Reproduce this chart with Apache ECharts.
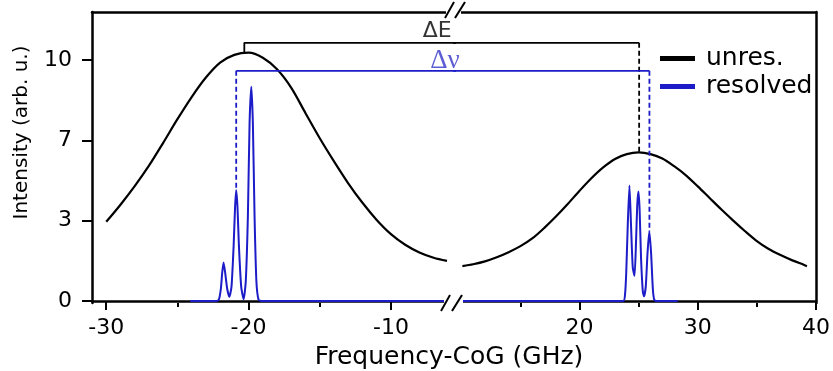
<!DOCTYPE html>
<html>
<head>
<meta charset="utf-8">
<script src="https://cdn.jsdelivr.net/npm/echarts@6/dist/echarts.min.js"></script>
<style>
  html, body { margin: 0; padding: 0; background: #fff; }
  #chart { width: 833px; height: 371px; }
</style>
</head>
<body>
<div id="chart"></div>
<script>
// unresolved (broad) line shape, left and right of the axis break
const unresLeft = [
  [-30, 3.29], [-29, 4.0], [-28, 4.77], [-27, 5.62], [-26, 6.57], [-25, 7.55],
  [-24, 8.47], [-23, 9.28], [-22, 9.9], [-21, 10.22], [-20, 10.31], [-19, 10.1],
  [-18, 9.62], [-17, 8.85], [-16, 7.8], [-15, 6.76], [-14, 5.8], [-13, 4.89],
  [-12, 4.08], [-11, 3.37], [-10, 2.78], [-9, 2.34], [-8, 2.02], [-7, 1.8], [-6.06, 1.67]
]
const unresRight = [
  [10.09, 1.45], [11, 1.53], [12, 1.65], [13, 1.82], [14, 2.03], [15, 2.28], [16, 2.6],
  [17, 3.03], [18, 3.51], [19, 4.03], [20, 4.58], [21, 5.1], [22, 5.55], [23, 5.9],
  [24, 6.1], [25, 6.17], [26, 6.1], [27, 5.92], [28, 5.6], [29, 5.22], [30, 4.76],
  [31, 4.28], [32, 3.8], [33, 3.34], [34, 2.9], [35, 2.49], [36, 2.16], [37, 1.91],
  [38, 1.69], [39, 1.5], [39.23, 1.45]
]
// resolved hyperfine components
const resolvedLeft = [
  [-24.1, 0], [-22.4, 0], [-22.1, 0.05], [-21.95, 0.5], [-21.85, 1.2], [-21.76, 1.6],
  [-21.65, 1.2], [-21.5, 0.5], [-21.35, 0.18], [-21.2, 0.6], [-21.05, 2.3], [-20.95, 3.9],
  [-20.87, 4.6], [-20.78, 3.9], [-20.68, 2.3], [-20.52, 0.6], [-20.35, 0.08], [-20.2, 0.8],
  [-20.05, 3.5], [-19.93, 7.4], [-19.81, 8.9], [-19.7, 7.4], [-19.58, 3.5], [-19.45, 0.8],
  [-19.3, 0.05], [-19.1, 0], [-5.0, 0]
]
const resolvedRight = [
  [9.0, 0], [23.7, 0], [23.85, 0.3], [23.95, 1.2], [24.08, 3.2], [24.22, 4.8],
  [24.35, 3.2], [24.5, 1.4], [24.65, 1.05], [24.78, 2.5], [24.88, 4.0], [24.98, 4.55],
  [25.08, 3.8], [25.2, 1.8], [25.35, 0.4], [25.45, 0.2], [25.6, 0.6], [25.75, 2.0],
  [25.9, 2.9], [26.05, 2.0], [26.2, 0.5], [26.32, 0.05], [26.5, 0], [28.3, 0]
]
// splitting markers: ΔE between unresolved maxima, Δν between resolved centroids
const dE = { from: -20.3, to: 25.04, level: 10.72, peakL: 10.31, peakR: 6.17 }
const dNu = { from: -20.87, to: 25.91, level: 9.56, peakL: 4.6, peakR: 2.9 }

const xTicksLeft = [-30, -20, -10]
const xMinorLeft = [-25, -15]
const xTicksRight = [20, 30, 40]
const xMinorRight = [15, 25, 35]
const yTicks = [0, 10 / 3, 20 / 3, 10]

const FONT = "DejaVu Sans"
const BLACK = "#000"
const BLUE = "#1c1cc8"
const xL = [-31, -5.57]
const xR = [9.38, 40]
const yR = [-0.08, 12]

const gridL = { left: 92, top: 12, width: 362, height: 291 }
const gridR = { left: 454, top: 12, width: 362.5, height: 291 }
const breakX = gridL.left + gridL.width

const lineAxis = { lineStyle: { color: BLACK, width: 2.5 } }

function bottomAxis(grid, range, ticks) {
  return {
    type: "value", gridIndex: grid, position: "bottom", min: range[0], max: range[1],
    axisLine: lineAxis,
    axisTick: { show: true, inside: false, length: 9, customValues: ticks, lineStyle: { color: BLACK, width: 2 } },
    axisLabel: { customValues: ticks, margin: 14, fontSize: 22, fontFamily: FONT, color: BLACK },
    splitLine: { show: false },
  }
}
function minorAxis(grid, range, ticks) {
  return {
    type: "value", gridIndex: grid, position: "bottom", min: range[0], max: range[1],
    axisLine: { show: false },
    axisTick: { show: true, length: 4, customValues: ticks, lineStyle: { color: BLACK, width: 2 } },
    axisLabel: { show: false },
    splitLine: { show: false },
  }
}
function topAxis(grid, range) {
  return {
    type: "value", gridIndex: grid, position: "top", min: range[0], max: range[1],
    axisLine: lineAxis, axisTick: { show: false }, axisLabel: { show: false }, splitLine: { show: false },
  }
}

function seg(name, xi, yi, data, color, dashed) {
  return {
    name, type: "line", xAxisIndex: xi, yAxisIndex: yi, data,
    showSymbol: false, silent: true,
    lineStyle: { color, width: 1.8, type: dashed ? [5, 3] : "solid" },
  }
}

const option = {
  animation: false,
  backgroundColor: "#fff",
  grid: [gridL, gridR],
  legend: {
    orient: "vertical", left: 655, top: 41,
    itemWidth: 35, itemHeight: 5, itemGap: 3, icon: "rect",
    data: ["unres.", "resolved"],
    textStyle: { fontSize: 25, fontFamily: FONT, color: BLACK, lineHeight: 25, padding: [0, 0, 0, 6] },
  },
  xAxis: [
    Object.assign(bottomAxis(0, xL, xTicksLeft), {
      name: "Frequency-CoG (GHz)", nameLocation: "end", nameGap: -5,
      nameTextStyle: { fontSize: 25, fontFamily: FONT, color: BLACK, align: "center", verticalAlign: "top", padding: [44, 0, 0, 0] },
    }),
    minorAxis(0, xL, xMinorLeft),
    topAxis(0, xL),
    bottomAxis(1, xR, xTicksRight),
    minorAxis(1, xR, xMinorRight),
    topAxis(1, xR),
  ],
  yAxis: [
    {
      type: "value", gridIndex: 0, position: "left", min: yR[0], max: yR[1],
      axisLine: lineAxis,
      axisTick: { show: true, length: 10, customValues: yTicks, lineStyle: { color: BLACK, width: 2 } },
      axisLabel: { customValues: yTicks, margin: 20, fontSize: 22, fontFamily: FONT, color: BLACK, formatter: (v) => String(Math.round(v)) },
      splitLine: { show: false },
      name: "Intensity (arb. u.)", nameLocation: "middle", nameGap: 60, nameRotate: 90,
      nameTextStyle: { fontSize: 20, fontFamily: FONT, color: BLACK, padding: [0, 0, 0, 50] },
    },
    {
      type: "value", gridIndex: 1, position: "right", min: yR[0], max: yR[1],
      axisLine: lineAxis, axisTick: { show: false }, axisLabel: { show: false }, splitLine: { show: false },
    },
  ],
  series: [
    { name: "unres.", type: "line", xAxisIndex: 0, yAxisIndex: 0, data: unresLeft, smooth: 0.3, showSymbol: false,
      itemStyle: { color: BLACK }, lineStyle: { color: BLACK, width: 2.2 } },
    { name: "unres.", type: "line", xAxisIndex: 3, yAxisIndex: 1, data: unresRight, smooth: 0.3, showSymbol: false,
      itemStyle: { color: BLACK }, lineStyle: { color: BLACK, width: 2.2 } },
    { name: "resolved", type: "line", xAxisIndex: 0, yAxisIndex: 0, data: resolvedLeft, smooth: 0.2, showSymbol: false, z: 3,
      itemStyle: { color: BLUE }, lineStyle: { color: BLUE, width: 2 } },
    { name: "resolved", type: "line", xAxisIndex: 3, yAxisIndex: 1, data: resolvedRight, smooth: 0.2, showSymbol: false, z: 3,
      itemStyle: { color: BLUE }, lineStyle: { color: BLUE, width: 2 } },
    // ΔE bracket
    seg("dE", 0, 0, [[dE.from, dE.peakL], [dE.from, dE.level], [xL[1] + 1, dE.level]], BLACK, false),
    seg("dE", 3, 1, [[xR[0] - 1, dE.level], [dE.to, dE.level]], BLACK, false),
    seg("dE", 3, 1, [[dE.to, dE.level], [dE.to, dE.peakR]], BLACK, true),
    // Δν bracket
    seg("dNu", 0, 0, [[dNu.from, dNu.level], [xL[1] + 1, dNu.level]], BLUE, false),
    seg("dNu", 0, 0, [[dNu.from, dNu.level], [dNu.from, dNu.peakL]], BLUE, true),
    seg("dNu", 3, 1, [[xR[0] - 1, dNu.level], [dNu.to, dNu.level]], BLUE, false),
    seg("dNu", 3, 1, [[dNu.to, dNu.level], [dNu.to, dNu.peakR]], BLUE, true),
    {
      type: "scatter", xAxisIndex: 0, yAxisIndex: 0, silent: true, symbolSize: 1,
      itemStyle: { color: "transparent" },
      data: [
        { value: [-6.75, 11.2], label: { formatter: "ΔE", color: BLACK, fontFamily: FONT, fontSize: 22 } },
        { value: [-6.2, 9.98], label: { formatter: "Δν", color: "#3535c8", fontFamily: "Liberation Serif", fontSize: 27 } },
      ],
      label: { show: true, position: "inside" },
    },
  ],
  graphic: [
    // axis break marks
    { type: "rect", z: 100, shape: { x: breakX - 10, y: 297, width: 19, height: 10 }, style: { fill: "#fff" } },
    { type: "rect", z: 100, shape: { x: breakX - 8, y: 8, width: 15, height: 8 }, style: { fill: "#fff" } },
    { type: "line", z: 101, shape: { x1: breakX - 13, y1: 311, x2: breakX - 4, y2: 295 }, style: { stroke: BLACK, lineWidth: 2 } },
    { type: "line", z: 101, shape: { x1: breakX - 2, y1: 311, x2: breakX + 8, y2: 295 }, style: { stroke: BLACK, lineWidth: 2 } },
    { type: "line", z: 101, shape: { x1: breakX - 9, y1: 18, x2: breakX, y2: 2 }, style: { stroke: BLACK, lineWidth: 2 } },
    { type: "line", z: 101, shape: { x1: breakX + 1, y1: 18, x2: breakX + 11, y2: 2 }, style: { stroke: BLACK, lineWidth: 2 } },
  ],
}

const chart = echarts.init(document.getElementById("chart"))
chart.setOption(option)
window.addEventListener("resize", () => chart.resize())
</script>
</body>
</html>
